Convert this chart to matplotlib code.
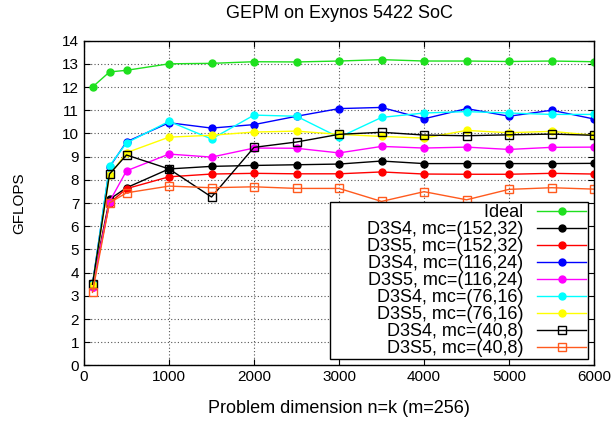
import matplotlib
matplotlib.use("Agg")
import matplotlib.pyplot as plt

plt.rcParams["font.family"] = ["Liberation Sans", "DejaVu Sans"]
plt.rcParams["font.size"] = 11

# problem dimension n=k
n = [100, 300, 500, 1000, 1500, 2000, 2500, 3000, 3500, 4000, 4500, 5000, 5500, 6000]

ideal = [12.0, 12.65, 12.72, 13.0, 13.02, 13.09, 13.08, 13.12, 13.18, 13.12, 13.12, 13.1, 13.12, 13.09]
s4_152 = [3.55, 7.16, 7.66, 8.47, 8.58, 8.62, 8.65, 8.68, 8.81, 8.7, 8.7, 8.7, 8.7, 8.71]
s5_152 = [3.4, 7.0, 7.62, 8.13, 8.25, 8.28, 8.26, 8.26, 8.34, 8.25, 8.24, 8.24, 8.28, 8.25]
s4_116 = [3.5, 8.55, 9.64, 10.46, 10.23, 10.38, 10.74, 11.07, 11.12, 10.63, 11.07, 10.74, 11.0, 10.62]
s5_116 = [3.4, 7.06, 8.39, 9.11, 8.98, 9.37, 9.36, 9.16, 9.44, 9.37, 9.41, 9.31, 9.4, 9.41]
s4_76 = [3.5, 8.6, 9.59, 10.52, 9.76, 10.79, 10.74, 9.83, 10.69, 10.88, 10.94, 10.88, 10.82, 10.82]
s5_76 = [3.45, 8.2, 9.17, 9.84, 9.92, 10.06, 10.1, 9.96, 9.87, 9.8, 10.13, 10.03, 10.09, 9.92]
s4_40 = [3.5, 8.25, 9.07, 8.47, 7.26, 9.4, 9.63, 9.96, 10.05, 9.93, 9.9, 9.94, 9.97, 9.92]
s5_40 = [3.15, 7.01, 7.44, 7.73, 7.66, 7.7, 7.63, 7.63, 7.07, 7.49, 7.14, 7.59, 7.66, 7.6]

series = [
    ("Ideal", ideal, "#1ee01e", "o", True),
    ("D3S4, mc=(152,32)", s4_152, "black", "o", True),
    ("D3S5, mc=(152,32)", s5_152, "#ff0000", "o", True),
    ("D3S4, mc=(116,24)", s4_116, "#0000ff", "o", True),
    ("D3S5, mc=(116,24)", s5_116, "#ff00ff", "o", True),
    ("D3S4, mc=(76,16)", s4_76, "#00ffff", "o", True),
    ("D3S5, mc=(76,16)", s5_76, "#ffff00", "o", True),
    ("D3S4, mc=(40,8)", s4_40, "black", "s", False),
    ("D3S5, mc=(40,8)", s5_40, "#ff5a1e", "s", False),
]

fig = plt.figure(figsize=(6.15, 4.23), dpi=100)
ax = fig.add_axes([0.1366, 0.136, 0.8294, 0.768])

for label, vals, col, mk, filled in series:
    # leading spaces widen the (right-aligned) legend box like gnuplot's key
    ax.plot(n, vals, color=col, lw=1, marker=mk,
            markersize=5 if filled else 6,
            markerfacecolor=col if filled else "none",
            markeredgecolor=col, markeredgewidth=1, label="       " + label)

ax.set_xlim(0, 6000)
ax.set_ylim(0, 14)
ax.set_xticks(range(0, 6001, 1000))
ax.set_yticks(range(0, 15))
ax.tick_params(direction="in", top=True, right=True, length=4, labelsize=11)
ax.grid(True, color="#555555", linestyle=(0, (1, 2)), linewidth=0.8)
for sp in ax.spines.values():
    sp.set_linewidth(1)

ax.set_title("GEPM on Exynos 5422 SoC", fontsize=13, pad=16)
ax.set_xlabel("Problem dimension n=k (m=256)", fontsize=13, labelpad=11)
ax.set_ylabel("GFLOPS", fontsize=11, labelpad=26)

leg = ax.legend(loc="lower right", bbox_to_anchor=(0.988, 0.02), borderaxespad=0,
                markerfirst=False, fontsize=13, handlelength=2.7, handletextpad=0.78,
                labelspacing=0.0, borderpad=0.1, fancybox=False,
                framealpha=1, edgecolor="black")
leg.get_frame().set_linewidth(1)

fig.savefig("out.png", dpi=100)
